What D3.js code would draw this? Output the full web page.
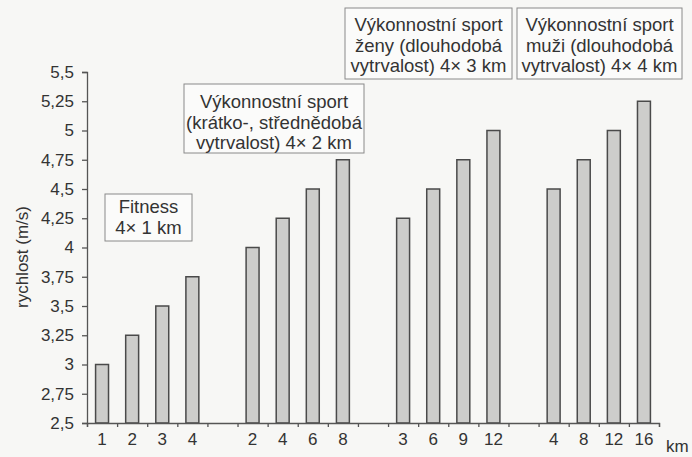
<!DOCTYPE html>
<html>
<head>
<meta charset="utf-8">
<script src="https://cdn.jsdelivr.net/npm/d3@7"></script>
<style>
  body { margin: 0; background: #f7f7f5; }
  svg { display: block; font-family: "Liberation Sans", Arial, sans-serif; }
</style>
</head>
<body>
<div id="chart"></div>
<script>
// Daten: vier Gruppen, jeweils Streckenangaben (km) und Geschwindigkeit (m/s)
const groups = ["Fitness", "Kratko", "Zeny", "Muzi"]
const kmLabels = [
  ["1", "2", "3", "4"],
  ["2", "4", "6", "8"],
  ["3", "6", "9", "12"],
  ["4", "8", "12", "16"]
]
const speeds = [
  [3, 3.25, 3.5, 3.75],
  [4, 4.25, 4.5, 4.75],
  [4.25, 4.5, 4.75, 5],
  [4.5, 4.75, 5, 5.25]
]
const yTicks = [2.5, 2.75, 3, 3.25, 3.5, 3.75, 4, 4.25, 4.5, 4.75, 5, 5.25, 5.5]

const boxTexts = [
  ["Fitness", "4× 1 km"],
  ["Výkonnostní sport", "(krátko-, střednědobá", "vytrvalost) 4× 2 km"],
  ["Výkonnostní sport", "ženy (dlouhodobá", "vytrvalost) 4× 3 km"],
  ["Výkonnostní sport", "muži (dlouhodobá", "vytrvalost) 4× 4 km"]
]

// Tabelle mit Lücken zwischen den Gruppen aufbauen
const slots = []
const data = []
groups.forEach((g, gi) => {
  if (gi > 0) slots.push("gap" + gi)
  kmLabels[gi].forEach((k, i) => {
    const key = g + "-" + k
    slots.push(key)
    data.push({ key: key, km: k, v: speeds[gi][i] })
  })
})

const W = 692, H = 457
const margin = { top: 72, left: 87, bottom: 34 }
const plotRight = 659
const ink = "#333"

const svg = d3.select("#chart").append("svg")
  .attr("width", W)
  .attr("height", H)

const x = d3.scaleBand()
  .domain(slots)
  .range([margin.left, plotRight])
  .paddingInner(0.57)
  .paddingOuter(0.285)

const slotIdx = d3.scaleLinear()
  .domain([0, slots.length])
  .range([margin.left, plotRight])

const y = d3.scaleLinear()
  .domain([2.5, 5.5])
  .range([H - margin.bottom, margin.top])

// Balken
svg.selectAll(".bar")
  .data(data)
  .enter().append("rect")
  .attr("class", "bar")
  .attr("x", d => x(d.key))
  .attr("width", x.bandwidth())
  .attr("y", d => y(d.v))
  .attr("height", d => y(2.5) - y(d.v))
  .attr("fill", "#cdcdcb")
  .attr("stroke", "#4a4a4a")
  .attr("stroke-width", 1.5)

// y-Achse
const yAxis = d3.axisLeft(y)
  .tickValues(yTicks)
  .tickSize(5)
  .tickPadding(8)
  .tickFormat(d => String(d).replace(".", ","))

svg.append("g")
  .attr("class", "y axis")
  .attr("transform", "translate(" + margin.left + ",0)")
  .call(yAxis)
  .call(g => g.selectAll("line, path").attr("stroke", "#555").attr("stroke-width", 1.3))
  .call(g => g.selectAll("text").attr("fill", ink).style("font-size", "17px"))

// x-Achse: Teilstriche an den Slot-Grenzen
svg.append("g")
  .attr("class", "x axis")
  .attr("transform", "translate(0," + y(2.5) + ")")
  .call(d3.axisBottom(slotIdx).ticks(slots.length).tickSize(4).tickFormat(""))
  .call(g => g.selectAll("line, path").attr("stroke", "#555").attr("stroke-width", 1.3))

// x-Beschriftungen (km)
svg.append("g")
  .attr("transform", "translate(0," + y(2.5) + ")")
  .call(d3.axisBottom(x).tickSize(0).tickPadding(10)
    .tickValues(data.map(d => d.key))
    .tickFormat(k => data.find(d => d.key === k).km))
  .call(g => g.select(".domain").remove())
  .call(g => g.selectAll("text").attr("fill", ink).style("font-size", "17px"))

svg.append("text")
  .attr("x", 666)
  .attr("y", 452)
  .attr("fill", ink)
  .style("font-size", "17px")
  .text("km")

// y-Titel
svg.append("text")
  .attr("transform", "translate(28,257) rotate(-90)")
  .attr("text-anchor", "middle")
  .attr("fill", ink)
  .style("font-size", "17px")
  .text("rychlost (m/s)")

// Beschriftungskästen
const boxLayout = [
  { x0: 105, x1: 192, top: 194, h: 47, first: 19, lh: 21 },
  { x0: 184, x1: 364, top: 84, h: 69, first: 24, lh: 20.5 },
  { x0: 345, x1: 512, top: 8, h: 71, first: 23, lh: 20.5 },
  { x0: 517, x1: 682, top: 8, h: 71, first: 23, lh: 20.5 }
]

boxLayout.forEach((b, i) => {
  const g = svg.append("g")
  g.append("rect")
    .attr("x", b.x0)
    .attr("y", b.top)
    .attr("width", b.x1 - b.x0)
    .attr("height", b.h)
    .attr("fill", "#fbfbfa")
    .attr("stroke", "#8a8a8a")
    .attr("stroke-width", 1)
  g.selectAll("text")
    .data(boxTexts[i])
    .enter().append("text")
    .attr("x", (b.x0 + b.x1) / 2)
    .attr("y", (d, j) => b.top + b.first + j * b.lh)
    .attr("text-anchor", "middle")
    .attr("fill", ink)
    .style("font-size", "18.5px")
    .text(d => d)
})
</script>
</body>
</html>
